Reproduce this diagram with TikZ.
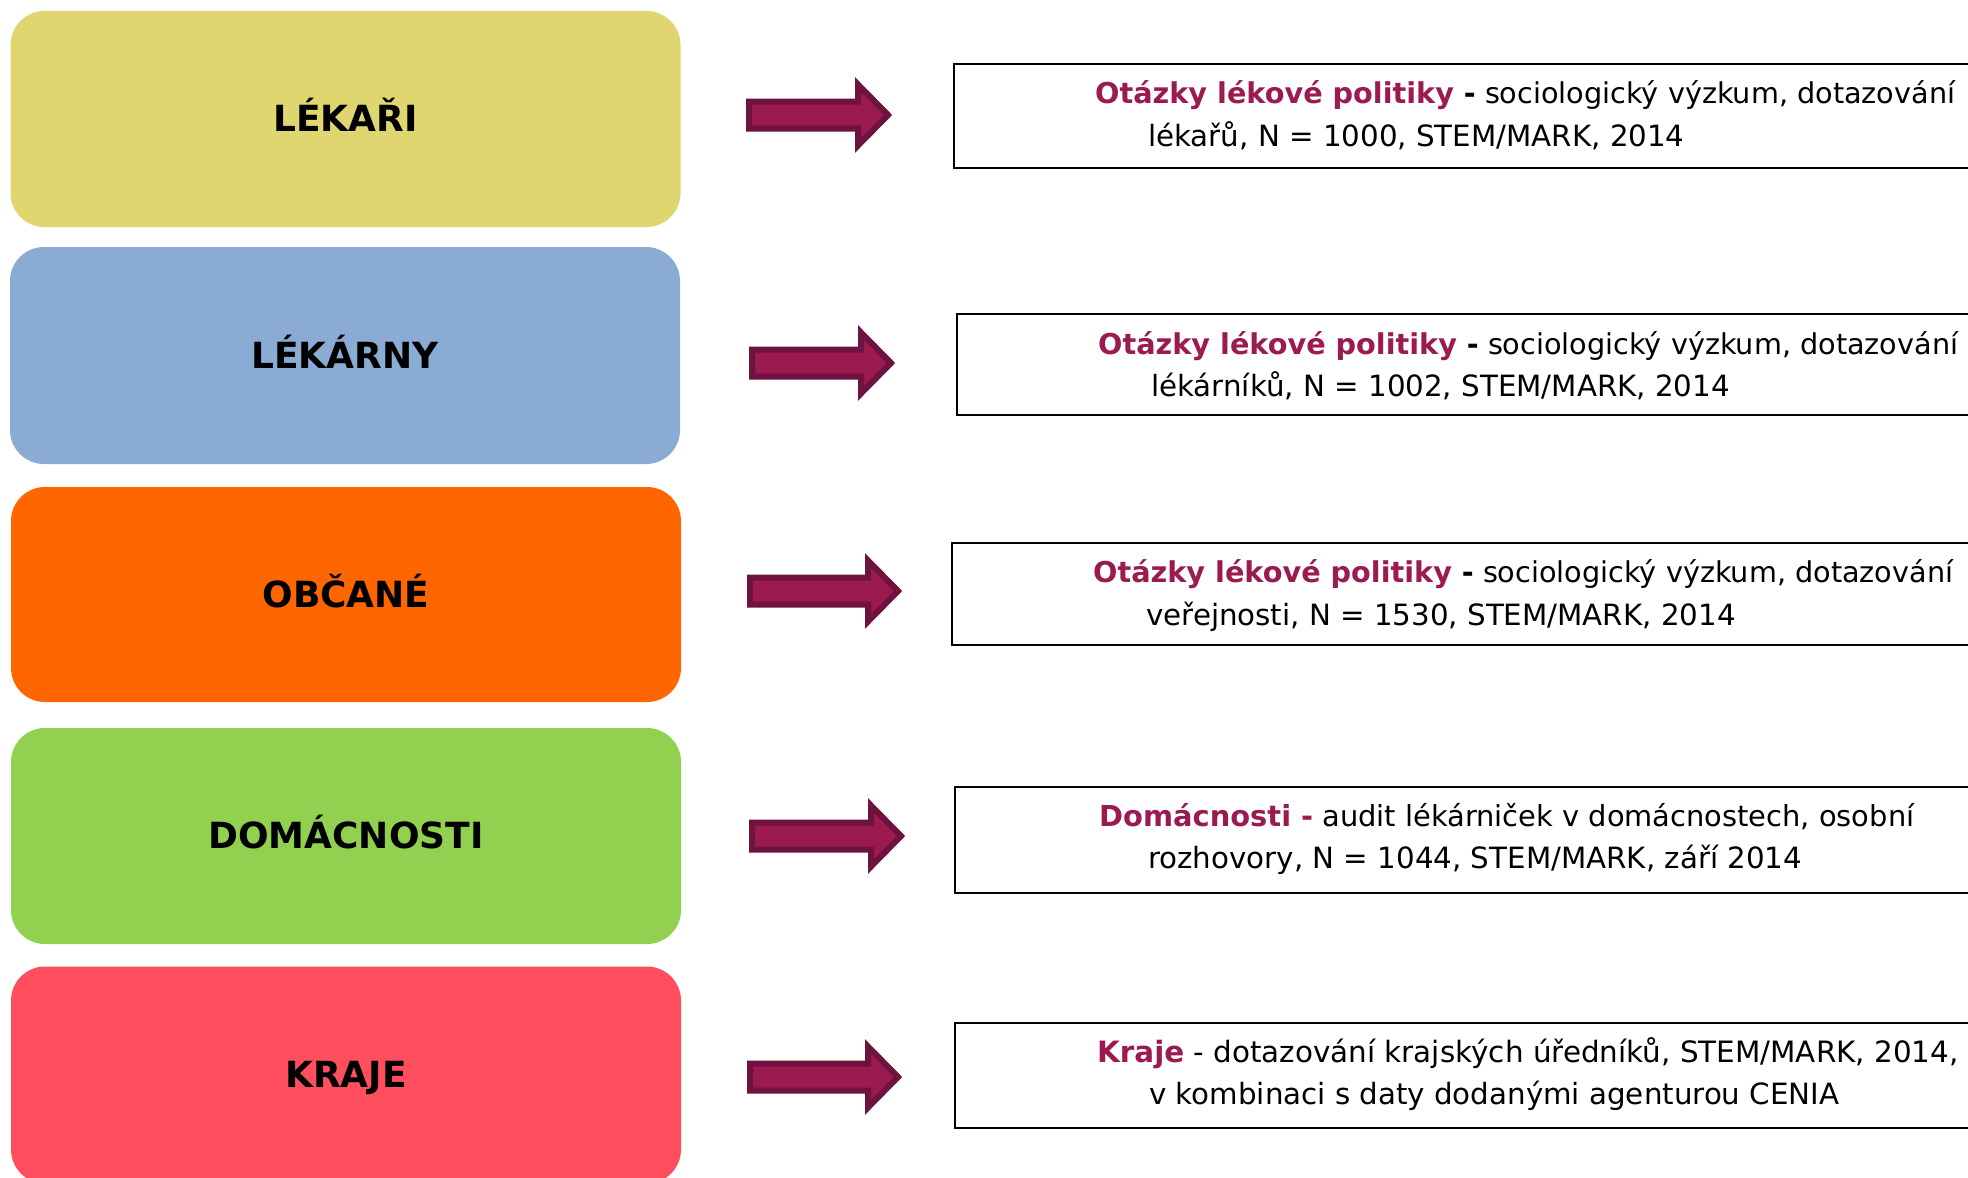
\documentclass[tikz,border=0pt]{standalone}
\usepackage{fontspec}
\setmainfont{DejaVu Sans}
\definecolor{cyellow}{HTML}{E0D670}
\definecolor{cblue}{HTML}{8AABD3}
\definecolor{corange}{HTML}{FF6600}
\definecolor{cgreen}{HTML}{92D050}
\definecolor{cred}{HTML}{FF4F5F}
\definecolor{cpurple}{HTML}{9B1B50}
\definecolor{arrowfill}{HTML}{9B1B4F}
\definecolor{arrowedge}{HTML}{6E1240}
\newcommand\barrow[3]{% left, tip, centre y
  \draw[blockarrow] ({#1+3},{#3-13.5}) -- ({#2-34},{#3-13.5}) -- ({#2-34},{#3-30.5})
    -- ({#2-4},{#3}) -- ({#2-34},{#3+30.5}) -- ({#2-34},{#3+13.5}) -- ({#1+3},{#3+13.5}) -- cycle;}
\begin{document}
\begin{tikzpicture}[x=1pt,y=-1pt,
  catbox/.style={rounded corners=34pt, minimum width=670pt, inner sep=0pt, draw=none},
  catlabel/.style={anchor=base, inner sep=0pt, font=\fontsize{36}{42}\selectfont\bfseries},
  srcbox/.style={draw=black, line width=2pt, anchor=north west, inner sep=0pt, minimum width=1100pt},
  srctext/.style={anchor=base west, inner sep=0pt, font=\fontsize{29.3}{35}\selectfont},
  srcsize/.style={font=\fontsize{#1}{35}\selectfont},
  blockarrow/.style={fill=arrowfill, draw=arrowedge, line width=6pt, miter limit=10}]
\useasboundingbox (0,0) rectangle (1968,1178);
\fill[white] (0,0) rectangle (1968,1178);

% category boxes
\node[catbox, fill=cyellow, minimum height=216pt] (b1) at (345.5,119) {};
\node[catbox, fill=cblue,   minimum height=217pt] (b2) at (345,355.5) {};
\node[catbox, fill=corange, minimum height=215pt] (b3) at (346,594.5) {};
\node[catbox, fill=cgreen,  minimum height=216pt] (b4) at (346,836) {};
\node[catbox, fill=cred,    minimum height=217pt] (b5) at (346,1075) {};

\node[catlabel] (l1) at (345.5,131.8) {LÉKAŘI};
\node[catlabel] (l2) at (345,368.3) {LÉKÁRNY};
\node[catlabel] (l3) at (346,607.3) {OBČANÉ};
\node[catlabel] (l4) at (346,848.8) {DOMÁCNOSTI};
\node[catlabel] (l5) at (346,1087.8) {KRAJE};

% arrows
\barrow{746}{892}{115}
\barrow{749}{895}{363}
\barrow{747}{902}{591}
\barrow{749}{905}{836}
\barrow{747}{902}{1077}

% source boxes
\node[srcbox, minimum height=104pt] (s1) at (953,63) {};
\node[srcbox, minimum height=101pt] (s2) at (956,313) {};
\node[srcbox, minimum height=102pt] (s3) at (951,542) {};
\node[srcbox, minimum height=106pt] (s4) at (954,786) {};
\node[srcbox, minimum height=105pt] (s5) at (954,1022) {};

\node[srctext, srcsize=28.7] (t1a) at (1095,103) {\textbf{\textcolor{cpurple}{Otázky lékové politiky} -} sociologický výzkum, dotazování};
\node[srctext] (t1b) at (1148,146) {lékařů, N = 1000, STEM/MARK, 2014};
\node[srctext, srcsize=28.7] (t2a) at (1098,354) {\textbf{\textcolor{cpurple}{Otázky lékové politiky} -} sociologický výzkum, dotazování};
\node[srctext] (t2b) at (1151,396) {lékárníků, N = 1002, STEM/MARK, 2014};
\node[srctext, srcsize=28.7] (t3a) at (1093,582) {\textbf{\textcolor{cpurple}{Otázky lékové politiky} -} sociologický výzkum, dotazování};
\node[srctext] (t3b) at (1146,625) {veřejnosti, N = 1530, STEM/MARK, 2014};
\node[srctext, srcsize=28.9] (t4a) at (1099,826) {\textbf{\textcolor{cpurple}{Domácnosti -}} audit lékárniček v domácnostech, osobní};
\node[srctext] (t4b) at (1148,868) {rozhovory, N = 1044, STEM/MARK, září 2014};
\node[srctext, srcsize=29.4] (t5a) at (1097,1062) {\textbf{\textcolor{cpurple}{Kraje}} - dotazování krajských úředníků, STEM/MARK, 2014,};
\node[srctext] (t5b) at (1149,1104) {v kombinaci s daty dodanými agenturou CENIA};
\end{tikzpicture}
\end{document}
